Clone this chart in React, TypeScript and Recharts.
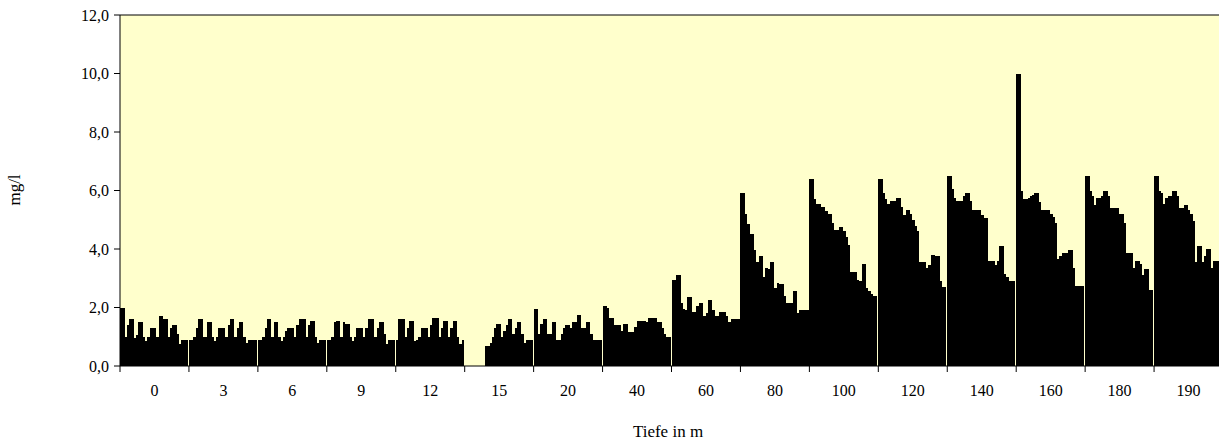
import { BarChart, Bar, XAxis, YAxis, CartesianGrid, ReferenceLine } from "recharts";

// depth categories (m) on the x axis
const depths = ["0", "3", "6", "9", "12", "15", "20", "40", "60", "80", "100", "120", "140", "160", "180", "190"];

// 30 measurements per depth, mg/l (null = no value)
const d0 = [2.0, 2.0, 1.0, 1.4, 1.6, 1.6, 0.95, 1.05, 1.5, 1.5, 1.0, 0.85, 1.0, 1.3, 1.3, 1.3, 1.0, 1.7, 1.7, 1.6, 1.6, 1.0, 1.3, 1.4, 1.4, 1.1, 0.75, 0.9, 0.9, 0.9];
const d3 = [0.9, 0.9, 1.0, 1.3, 1.6, 1.6, 1.0, 1.0, 1.5, 1.5, 1.0, 0.85, 1.0, 1.3, 1.3, 1.3, 1.0, 1.4, 1.6, 1.6, 1.0, 1.3, 1.5, 1.5, 1.0, 0.8, 0.9, 0.9, 0.9, 0.9];
const d6 = [0.9, 0.9, 1.0, 1.3, 1.6, 1.6, 1.0, 1.5, 1.5, 1.0, 0.85, 1.0, 1.2, 1.3, 1.3, 1.3, 1.0, 1.4, 1.6, 1.6, 1.6, 1.0, 1.4, 1.55, 1.55, 1.0, 0.8, 0.9, 0.9, 0.9];
const d9 = [0.9, 0.9, 1.0, 1.5, 1.55, 1.55, 1.0, 1.5, 1.45, 1.45, 1.0, 0.85, 1.0, 1.3, 1.3, 1.3, 1.0, 1.3, 1.6, 1.6, 1.6, 1.0, 1.3, 1.5, 1.5, 1.1, 0.75, 0.9, 0.9, 0.9];
const d12 = [0.9, 1.6, 1.6, 1.6, 1.0, 1.3, 1.55, 1.55, 0.85, 0.9, 1.0, 1.3, 1.3, 1.3, 1.0, 1.4, 1.65, 1.65, 1.65, 1.0, 1.3, 1.55, 1.55, 1.0, 1.3, 1.55, 1.55, 1.0, 0.75, 0.9];
const d15 = [null, null, null, null, null, null, null, null, null, 0.7, 0.7, 0.8, 1.0, 1.3, 1.45, 1.45, 1.0, 1.2, 1.4, 1.6, 1.6, 1.1, 1.3, 1.5, 1.5, 1.1, 0.8, 0.9, 0.9, 0.9];
const d20 = [1.95, 1.95, 1.1, 1.45, 1.6, 1.6, 1.1, 1.1, 1.5, 1.5, 0.9, 0.9, 1.1, 1.3, 1.4, 1.4, 1.3, 1.5, 1.5, 1.75, 1.75, 1.3, 1.3, 1.5, 1.5, 1.1, 0.9, 0.9, 0.9, 0.9];
const d40 = [2.05, 2.05, 2.0, 1.65, 1.65, 1.4, 1.4, 1.4, 1.2, 1.45, 1.45, 1.15, 1.15, 1.15, 1.35, 1.55, 1.55, 1.55, 1.55, 1.5, 1.65, 1.65, 1.65, 1.65, 1.5, 1.5, 1.3, 1.1, 1.0, 1.0];
const d60 = [2.95, 2.95, 3.1, 3.1, 2.15, 1.95, 1.9, 2.35, 2.35, 1.85, 1.85, 2.05, 2.15, 2.15, 1.7, 1.8, 2.25, 2.25, 1.9, 1.7, 1.7, 1.85, 1.85, 1.85, 1.7, 1.5, 1.6, 1.6, 1.6, 1.6];
const d80 = [5.9, 5.9, 5.2, 4.85, 4.5, 4.5, 3.95, 3.55, 3.75, 3.75, 3.05, 3.35, 3.3, 3.55, 3.55, 2.65, 2.85, 2.8, 2.8, 2.4, 2.15, 2.15, 2.15, 2.55, 2.55, 1.8, 1.9, 1.9, 1.9, 1.9];
const d100 = [6.4, 6.4, 5.7, 5.55, 5.55, 5.45, 5.45, 5.3, 5.2, 5.2, 4.9, 4.65, 4.65, 4.75, 4.75, 4.6, 4.4, 4.15, 3.2, 3.2, 3.2, 2.95, 2.9, 3.5, 3.5, 2.65, 2.55, 2.45, 2.4, 2.4];
const d120 = [6.4, 6.4, 5.9, 5.7, 5.55, 5.65, 5.65, 5.65, 5.75, 5.75, 5.45, 5.15, 5.35, 5.35, 5.2, 5.0, 4.8, 4.6, 3.55, 3.55, 3.55, 3.35, 3.45, 3.8, 3.8, 3.75, 3.75, 2.9, 2.7, 2.7];
const d140 = [6.5, 6.5, 6.05, 5.75, 5.65, 5.65, 5.65, 5.8, 5.9, 5.9, 5.65, 5.35, 5.35, 5.35, 5.35, 5.15, 5.05, 5.05, 3.6, 3.6, 3.6, 3.45, 3.6, 4.1, 4.1, 3.15, 3.05, 2.9, 2.9, 2.9];
const d160 = [10.0, 10.0, 6.0, 5.7, 5.7, 5.75, 5.8, 5.85, 5.9, 5.9, 5.6, 5.35, 5.35, 5.35, 5.35, 5.2, 5.1, 4.9, 3.65, 3.75, 3.85, 3.85, 3.85, 3.95, 3.95, 3.35, 2.75, 2.75, 2.75, 2.75];
const d180 = [6.5, 6.5, 6.0, 5.8, 5.5, 5.75, 5.75, 5.8, 6.0, 6.0, 5.8, 5.4, 5.4, 5.4, 5.4, 5.2, 5.2, 4.9, 3.85, 3.85, 3.85, 3.35, 3.6, 3.6, 3.5, 3.1, 3.3, 3.3, 2.6, 2.6];
const d190 = [6.5, 6.5, 6.0, 5.9, 5.55, 5.75, 5.8, 5.8, 6.0, 6.0, 5.8, 5.4, 5.4, 5.5, 5.5, 5.35, 5.2, 4.95, 3.55, 4.1, 4.1, 3.55, 3.75, 4.0, 4.0, 3.35, 3.6, 3.6, 3.6, 3.6];

const yTicks = [0, 2, 4, 6, 8, 10, 12];

const groups = [d0, d3, d6, d9, d12, d15, d20, d40, d60, d80, d100, d120, d140, d160, d180, d190];
const SERIES = 30;

const rows = depths.map((depth, i) => {
  const row: any = { depth };
  groups[i].forEach((v, j) => {
    row[`s${j}`] = v;
  });
  return row;
});

const FONT = '"Liberation Serif", "Times New Roman", serif';
const CHART_W = 1226;
const CHART_H = 448;
const LEFT = 120;
const TOP = 15;
const RIGHT = 3;
const PLOT_BOTTOM = 366;
const BAND = (CHART_W - LEFT - RIGHT) / depths.length;

const DepthTick = (props: any) => {
  const { x, payload } = props;
  const edge = x - BAND / 2;
  return (
    <g>
      <line x1={edge} x2={edge} y1={PLOT_BOTTOM} y2={PLOT_BOTTOM + 6} stroke="#000" />
      <text x={x} y={PLOT_BOTTOM + 30} textAnchor="middle" fontFamily={FONT} fontSize={16} fill="#000">
        {payload.value}
      </text>
    </g>
  );
};

export default function App() {
  return (
    <div style={{ position: "absolute", left: 0, top: 0, width: 1219, height: 448, overflow: "hidden", background: "#fff" }}>
      <BarChart
        width={CHART_W}
        height={CHART_H}
        data={rows}
        margin={{ top: TOP, right: RIGHT, left: 0, bottom: 0 }}
        barGap={0}
        barCategoryGap={0}
        barSize={2.27}
      >
        <CartesianGrid horizontal={false} vertical={false} fill="#FFFFCC" />
        <XAxis
          dataKey="depth"
          height={CHART_H - PLOT_BOTTOM}
          axisLine={{ stroke: "#000" }}
          tickLine={false}
          tick={<DepthTick />}
          interval={0}
          label={{
            content: () => (
              <text x={668} y={437} textAnchor="middle" fontFamily={FONT} fontSize={17} fill="#000">
                Tiefe in m
              </text>
            ),
          }}
        />
        <YAxis
          width={LEFT}
          domain={[0, 12]}
          ticks={yTicks}
          interval={0}
          tickFormatter={(v: number) => v.toFixed(1).replace(".", ",")}
          axisLine={{ stroke: "#000" }}
          tickLine={{ stroke: "#000" }}
          tickSize={6}
          tickMargin={5}
          tick={{ fontFamily: FONT, fontSize: 16, fill: "#000" }}
          label={{
            content: () => (
              <text x={20} y={190} transform="rotate(-90 20 190)" textAnchor="middle" fontFamily={FONT} fontSize={17} fill="#000">
                mg/l
              </text>
            ),
          }}
        />
        <ReferenceLine y={12} stroke="#000" />
        {Array.from({ length: SERIES }, (_, j) => (
          <Bar key={j} dataKey={`s${j}`} fill="#000" shapeRendering="crispEdges" isAnimationActive={false} />
        ))}
      </BarChart>
    </div>
  );
}
